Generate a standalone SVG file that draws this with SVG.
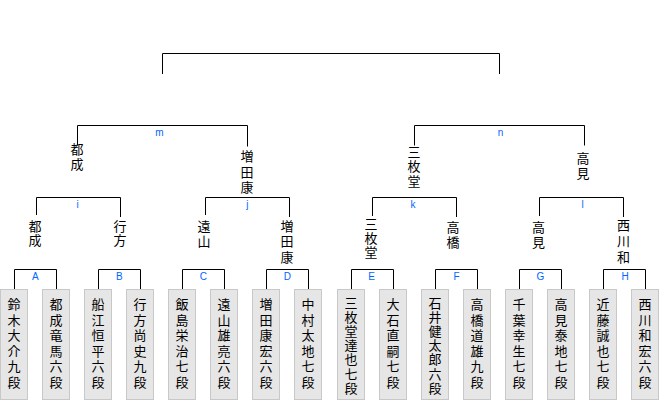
<svg xmlns="http://www.w3.org/2000/svg" width="660" height="400" viewBox="0 0 660 400">
<style>
.ln{stroke:#000;stroke-width:1;fill:none}
.box{fill:#e6e6e6;stroke:#c8c8c8;stroke-width:1}
.jp{font-family:"Noto Sans CJK JP","Noto Sans CJK SC",sans-serif;font-size:13px;fill:#000;text-anchor:middle}
.lbl{font-family:"Liberation Sans",Arial,sans-serif;font-size:10px;fill:#0066ff;text-anchor:middle}
</style>
<rect width="660" height="400" fill="#fff"/>
<g id="connectors">
<path class="ln" d="M162.5 74V53.5H499.5V74"/>
<path class="ln" d="M77.5 145.5V125.5H247.5V146.5"/>
<path class="ln" d="M414.5 145.5V125.5H584.5V145.5"/>
<path class="ln" d="M36.5 215V197.5H120.5V217"/>
<path class="ln" d="M205.5 215V197.5H289.5V217"/>
<path class="ln" d="M372.5 216V197.5H456.5V217"/>
<path class="ln" d="M539.5 216V197.5H623.5V217"/>
<path class="ln" d="M14.5 289V269.5H56.5V289"/>
<path class="ln" d="M98.5 289V269.5H140.5V289"/>
<path class="ln" d="M182.5 289V269.5H224.5V289"/>
<path class="ln" d="M266.5 289V269.5H308.5V289"/>
<path class="ln" d="M351.5 289V269.5H393.5V289"/>
<path class="ln" d="M435.5 289V269.5H477.5V289"/>
<path class="ln" d="M519.5 289V269.5H561.5V289"/>
<path class="ln" d="M603.5 289V269.5H645.5V289"/>
</g>
<g id="match-labels">
<text class="lbl" x="159.5" y="136">m</text>
<text class="lbl" x="500.5" y="136">n</text>
<text class="lbl" x="77.7" y="208">i</text>
<text class="lbl" x="247.3" y="208">j</text>
<text class="lbl" x="413" y="208">k</text>
<text class="lbl" x="582.7" y="208">l</text>
<text class="lbl" x="35.3" y="280">A</text>
<text class="lbl" x="119.3" y="280">B</text>
<text class="lbl" x="203.3" y="280">C</text>
<text class="lbl" x="287.3" y="280">D</text>
<text class="lbl" x="371.7" y="280">E</text>
<text class="lbl" x="456.5" y="280">F</text>
<text class="lbl" x="540.3" y="280">G</text>
<text class="lbl" x="625" y="280">H</text>
</g>
<g id="w-m"><text class="jp"><tspan x="77" y="154">都</tspan><tspan x="77" y="169">成</tspan></text></g>
<g id="w-n-l"><text class="jp"><tspan x="247" y="161">増</tspan><tspan x="247" y="176.5">田</tspan><tspan x="247" y="192">康</tspan></text></g>
<g id="w-n"><text class="jp"><tspan x="414" y="156.5">三</tspan><tspan x="414" y="171">枚</tspan><tspan x="414" y="185.5">堂</tspan></text></g>
<g id="w-l2"><text class="jp"><tspan x="583" y="162.5">高</tspan><tspan x="583" y="177.5">見</tspan></text></g>
<g id="w-i"><text class="jp"><tspan x="35" y="230.5">都</tspan><tspan x="35" y="245">成</tspan></text></g>
<g id="w-B"><text class="jp"><tspan x="120" y="230.5">行</tspan><tspan x="120" y="245">方</tspan></text></g>
<g id="w-C"><text class="jp"><tspan x="204" y="230.5">遠</tspan><tspan x="204" y="246">山</tspan></text></g>
<g id="w-D"><text class="jp"><tspan x="287" y="230.5">増</tspan><tspan x="287" y="246">田</tspan><tspan x="287" y="261.5">康</tspan></text></g>
<g id="w-E"><text class="jp"><tspan x="371" y="228.5">三</tspan><tspan x="371" y="242.5">枚</tspan><tspan x="371" y="256.7">堂</tspan></text></g>
<g id="w-F"><text class="jp"><tspan x="453" y="231.7">高</tspan><tspan x="453" y="246.7">橋</tspan></text></g>
<g id="w-G"><text class="jp"><tspan x="538.5" y="232">高</tspan><tspan x="538.5" y="246.7">見</tspan></text></g>
<g id="w-H"><text class="jp"><tspan x="623.5" y="230">西</tspan><tspan x="623.5" y="245.8">川</tspan><tspan x="623.5" y="261.5">和</tspan></text></g>
<g id="p1"><rect class="box" x="0.5" y="289.5" width="27" height="110"/><text class="jp"><tspan x="14" y="309">鈴</tspan><tspan x="14" y="324.5">木</tspan><tspan x="14" y="340">大</tspan><tspan x="14" y="355.5">介</tspan><tspan x="14" y="371">九</tspan><tspan x="14" y="386.5">段</tspan></text></g>
<g id="p2"><rect class="box" x="42.5" y="289.5" width="27" height="110"/><text class="jp"><tspan x="56" y="309">都</tspan><tspan x="56" y="324.5">成</tspan><tspan x="56" y="340">竜</tspan><tspan x="56" y="355.5">馬</tspan><tspan x="56" y="371">六</tspan><tspan x="56" y="386.5">段</tspan></text></g>
<g id="p3"><rect class="box" x="84.5" y="289.5" width="27" height="110"/><text class="jp"><tspan x="98" y="309">船</tspan><tspan x="98" y="324.5">江</tspan><tspan x="98" y="340">恒</tspan><tspan x="98" y="355.5">平</tspan><tspan x="98" y="371">六</tspan><tspan x="98" y="386.5">段</tspan></text></g>
<g id="p4"><rect class="box" x="126.5" y="289.5" width="27" height="110"/><text class="jp"><tspan x="140" y="309">行</tspan><tspan x="140" y="324.5">方</tspan><tspan x="140" y="340">尚</tspan><tspan x="140" y="355.5">史</tspan><tspan x="140" y="371">九</tspan><tspan x="140" y="386.5">段</tspan></text></g>
<g id="p5"><rect class="box" x="168.5" y="289.5" width="27" height="110"/><text class="jp"><tspan x="182" y="309">飯</tspan><tspan x="182" y="324.5">島</tspan><tspan x="182" y="340">栄</tspan><tspan x="182" y="355.5">治</tspan><tspan x="182" y="371">七</tspan><tspan x="182" y="386.5">段</tspan></text></g>
<g id="p6"><rect class="box" x="210.5" y="289.5" width="27" height="110"/><text class="jp"><tspan x="224" y="309">遠</tspan><tspan x="224" y="324.5">山</tspan><tspan x="224" y="340">雄</tspan><tspan x="224" y="355.5">亮</tspan><tspan x="224" y="371">六</tspan><tspan x="224" y="386.5">段</tspan></text></g>
<g id="p7"><rect class="box" x="252.5" y="289.5" width="27" height="110"/><text class="jp"><tspan x="266" y="309">増</tspan><tspan x="266" y="324.5">田</tspan><tspan x="266" y="340">康</tspan><tspan x="266" y="355.5">宏</tspan><tspan x="266" y="371">六</tspan><tspan x="266" y="386.5">段</tspan></text></g>
<g id="p8"><rect class="box" x="294.5" y="289.5" width="27" height="110"/><text class="jp"><tspan x="308" y="309">中</tspan><tspan x="308" y="324.5">村</tspan><tspan x="308" y="340">太</tspan><tspan x="308" y="355.5">地</tspan><tspan x="308" y="371">七</tspan><tspan x="308" y="386.5">段</tspan></text></g>
<g id="p9"><rect class="box" x="337.5" y="289.5" width="27" height="110"/><text class="jp"><tspan x="351" y="307.5">三</tspan><tspan x="351" y="321.7">枚</tspan><tspan x="351" y="335.9">堂</tspan><tspan x="351" y="350.1">達</tspan><tspan x="351" y="364.3">也</tspan><tspan x="351" y="378.5">七</tspan><tspan x="351" y="392.7">段</tspan></text></g>
<g id="p10"><rect class="box" x="379.5" y="289.5" width="27" height="110"/><text class="jp"><tspan x="393" y="309">大</tspan><tspan x="393" y="324.5">石</tspan><tspan x="393" y="340">直</tspan><tspan x="393" y="355.5">嗣</tspan><tspan x="393" y="371">七</tspan><tspan x="393" y="386.5">段</tspan></text></g>
<g id="p11"><rect class="box" x="421.5" y="289.5" width="27" height="110"/><text class="jp"><tspan x="435" y="307.5">石</tspan><tspan x="435" y="321.7">井</tspan><tspan x="435" y="335.9">健</tspan><tspan x="435" y="350.1">太</tspan><tspan x="435" y="364.3">郎</tspan><tspan x="435" y="378.5">六</tspan><tspan x="435" y="392.7">段</tspan></text></g>
<g id="p12"><rect class="box" x="463.5" y="289.5" width="27" height="110"/><text class="jp"><tspan x="477" y="309">高</tspan><tspan x="477" y="324.5">橋</tspan><tspan x="477" y="340">道</tspan><tspan x="477" y="355.5">雄</tspan><tspan x="477" y="371">九</tspan><tspan x="477" y="386.5">段</tspan></text></g>
<g id="p13"><rect class="box" x="505.5" y="289.5" width="27" height="110"/><text class="jp"><tspan x="519" y="309">千</tspan><tspan x="519" y="324.5">葉</tspan><tspan x="519" y="340">幸</tspan><tspan x="519" y="355.5">生</tspan><tspan x="519" y="371">七</tspan><tspan x="519" y="386.5">段</tspan></text></g>
<g id="p14"><rect class="box" x="547.5" y="289.5" width="27" height="110"/><text class="jp"><tspan x="561" y="309">高</tspan><tspan x="561" y="324.5">見</tspan><tspan x="561" y="340">泰</tspan><tspan x="561" y="355.5">地</tspan><tspan x="561" y="371">七</tspan><tspan x="561" y="386.5">段</tspan></text></g>
<g id="p15"><rect class="box" x="589.5" y="289.5" width="27" height="110"/><text class="jp"><tspan x="603" y="309">近</tspan><tspan x="603" y="324.5">藤</tspan><tspan x="603" y="340">誠</tspan><tspan x="603" y="355.5">也</tspan><tspan x="603" y="371">七</tspan><tspan x="603" y="386.5">段</tspan></text></g>
<g id="p16"><rect class="box" x="631.5" y="289.5" width="27" height="110"/><text class="jp"><tspan x="645" y="309">西</tspan><tspan x="645" y="324.5">川</tspan><tspan x="645" y="340">和</tspan><tspan x="645" y="355.5">宏</tspan><tspan x="645" y="371">六</tspan><tspan x="645" y="386.5">段</tspan></text></g>
</svg>
